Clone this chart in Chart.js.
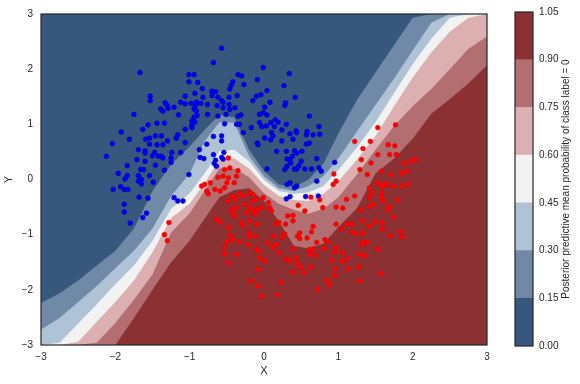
<!DOCTYPE html>
<html><head><meta charset="utf-8">
<script src="https://cdn.jsdelivr.net/npm/chart.js@4/dist/chart.umd.min.js"></script>
<style>
html,body{margin:0;padding:0;background:#fff;}
#wrap{position:relative;width:580px;height:384px;overflow:hidden;}
#main{position:absolute;left:0;top:0;}
#cbar{position:absolute;left:480px;top:0;}
</style></head><body>
<div id="wrap"><canvas id="main" width="580" height="384"></canvas><canvas id="cbar" width="100" height="384"></canvas></div>
<script>
// ---- data ----
const gridX = [-3, -2.75, -2.5, -2.25, -2, -1.75, -1.5, -1.25, -1, -0.8, -0.6, -0.4, -0.2, 0, 0.2, 0.4, 0.6, 0.8, 1, 1.25, 1.5, 1.75, 2, 2.25, 2.5, 2.75, 3];
const level015 = [-2.24,-2.06,-1.83,-1.56,-1.29,-0.89,-0.21,0.27,0.60,0.90,1.17,1.13,0.54,0.15,-0.09,-0.14,0.00,0.29,0.83,1.44,1.94,2.44,2.93,3,3,3,3];
const level030 = [-2.72,-2.51,-2.22,-1.93,-1.61,-1.29,-0.89,-0.30,0.11,0.69,1.04,1.03,0.42,0.06,-0.16,-0.21,-0.12,0.06,0.38,0.87,1.35,1.83,2.34,2.84,3,3,3];
const level045 = [-3,-2.96,-2.61,-2.26,-1.90,-1.56,-1.11,-0.53,-0.25,0.11,0.51,0.54,0.33,-0.01,-0.21,-0.26,-0.23,-0.12,0.17,0.58,1.04,1.57,2.09,2.55,2.93,3,3];
const level060 = [-3,-3,-2.94,-2.58,-2.22,-1.83,-1.32,-0.70,-0.44,-0.07,0.36,0.38,0.20,-0.10,-0.30,-0.37,-0.39,-0.26,-0.03,0.36,0.79,1.33,1.85,2.30,2.68,2.93,3];
const level075 = [-3,-3,-3,-2.96,-2.60,-2.18,-1.72,-0.96,-0.61,-0.21,0.20,0.20,0.04,-0.25,-0.44,-0.55,-0.62,-0.53,-0.32,0.09,0.54,0.97,1.33,1.64,2.00,2.37,2.59];
const level090 = [-3,-3,-3,-3,-3,-2.51,-2.00,-1.50,-1.11,-0.71,-0.32,-0.19,-0.16,-0.39,-0.75,-1.20,-1.25,-1.16,-0.86,-0.52,0.11,0.38,0.74,1.19,1.46,1.74,2.07];
const levels = [0, 0.15, 0.30, 0.45, 0.60, 0.75, 0.90, 1.05];
const axisTicks = [-3, -2, -1, 0, 1, 2, 3];
const class0Points = [
[-1.67,1.94],[-0.68,2.12],[-1.01,1.90],[-0.94,1.90],[-1.01,1.77],[-0.89,1.76],[-0.83,1.65],[-0.70,1.60],[-0.65,1.59],[-0.70,1.52],[-0.93,1.56],[-0.82,1.49],[-1.53,1.51],[-1.53,1.43],[-1.06,1.51],[-1.12,1.40],[-1.06,1.37],[-0.98,1.38],[-0.91,1.40],[-0.85,1.38],[-0.92,1.34],[-0.76,1.36],[-1.33,1.39],[-1.30,1.34],[-1.21,1.31],[-1.39,1.28],[-1.36,1.24],[-1.29,1.29],[-0.94,1.28],[-0.91,1.24],[-0.90,1.16],[-0.76,1.18],[-1.15,1.17],[-1.75,1.18],[-0.94,1.13],[-0.97,1.06],[-0.93,1.04],[-0.97,0.98],[-0.97,0.94],[-1.56,0.99],[-1.44,1.02],[-1.34,1.02],[-1.63,0.91],[-1.06,0.91],[-1.92,0.86],
[-1.81,0.73],[-2.04,0.65],[-1.54,0.75],[-1.59,0.73],[-1.46,0.79],[-1.38,0.79],[-1.30,0.70],[-1.18,0.75],[-1.16,0.81],[-1.06,0.67],[-0.77,0.64],[-0.68,0.78],[-1.69,0.54],[-1.60,0.52],[-1.60,0.48],[-1.54,0.64],[-1.50,0.43],[-1.47,0.49],[-1.42,0.42],[-1.44,0.63],[-1.36,0.63],[-1.38,0.42],[-1.36,0.39],[-1.24,0.49],[-1.12,0.49],[-1.25,0.39],[-1.25,0.31],[-0.87,0.54],[-0.86,0.40],[-0.81,0.38],[-0.68,0.45],[-1.71,0.36],[-1.60,0.33],[-2.12,0.42],[-1.84,0.25],[-1.46,0.26],[-1.66,0.18],[-1.62,0.18],[-1.34,0.17],[-1.96,0.11],[-1.84,0.07],[-1.87,0.01],[-1.69,0.07],[-1.69,-0.03],[-1.65,0.00],[-1.65,-0.08],[-1.54,0.07],[-1.49,-0.05],[-1.93,-0.13],[-2.03,-0.18],[-1.88,-0.18],[-1.83,-0.18],[-1.01,0.09],[-1.68,-0.32],[-1.56,-0.34],[-1.21,-0.33],[-1.16,-0.39],[-1.09,-0.39],[-1.88,-0.45],[-1.88,-0.59],[-1.58,-0.61],[-1.63,-0.69],[-1.80,-0.79],
[-0.57,2.38],[-0.01,2.03],[0.34,1.92],[-0.35,1.90],[-0.30,1.88],[-0.09,1.81],[-0.42,1.77],[-0.44,1.71],[-0.27,1.72],[-0.46,1.64],[0.27,1.70],[-0.62,1.49],[-0.57,1.43],[-0.55,1.40],[-0.47,1.49],[-0.36,1.52],[-0.15,1.43],[-0.10,1.51],[-0.04,1.54],[0.04,1.61],[0.42,1.49],[0.08,1.40],[0.28,1.34],[0.29,1.39],[-0.63,1.34],[-0.55,1.30],[-0.47,1.36],[-0.46,1.27],[-0.39,1.30],[0.01,1.31],[-0.06,1.18],[-0.01,1.21],[0.04,1.17],[-0.62,1.15],[-0.51,1.18],[-0.35,1.15],[-0.31,1.17],[-0.33,1.00],[-0.37,1.00],[-0.53,1.01],[0.15,1.08],[0.19,1.04],[0.09,1.03],[-0.06,1.03],[0.03,0.97],[-0.03,0.96],[-0.17,0.94],[0.14,0.96],[0.30,1.00],[0.61,1.15],[0.74,0.96],[0.43,0.88],[0.24,0.90],[0.58,0.87],
[-0.57,0.79],[-0.57,0.70],[-0.28,0.85],[0.10,0.85],[0.01,0.75],[0.09,0.72],[0.12,0.79],[0.35,0.83],[0.44,0.85],[0.57,0.81],[0.75,0.82],[-0.09,0.66],[-0.08,0.63],[0.24,0.70],[0.39,0.73],[0.61,0.66],[0.57,0.64],[-0.54,0.49],[-0.55,0.37],[-0.57,0.40],[-0.65,0.35],[-0.67,0.29],[-0.64,0.24],[0.17,0.51],[0.30,0.51],[0.41,0.52],[0.44,0.48],[0.38,0.42],[0.35,0.36],[0.31,0.37],[0.51,0.51],[0.36,0.30],[0.31,0.24],[0.50,0.33],[0.47,0.25],[0.41,0.19],[0.44,0.19],[0.55,0.19],[0.28,0.18],[0.04,0.19],[0.71,0.38],[0.64,0.19],[0.74,0.21],[0.71,-0.03],[0.35,-0.06],[0.31,-0.09],[0.44,-0.12],[0.41,-0.15],[0.30,-0.35],[0.35,-0.31],[0.56,-0.31],[0.73,-0.30],[0.66,0.81],[0.77,0.15],[0.95,0.31]
];
const class1Points = [
[-1.28,-0.78],[-1.34,-1.00],[-1.30,-1.11],
[-0.48,0.39],[-0.53,0.18],[-0.46,0.21],[-0.35,0.16],[-0.62,0.04],[-0.55,0.06],[-0.48,0.03],[-0.37,0.06],[-0.40,-0.06],[-0.50,-0.06],[-0.84,-0.12],[-0.80,-0.09],[-0.72,-0.06],[-0.77,-0.21],[-0.75,-0.26],[-0.66,-0.18],[-0.59,-0.21],[-0.53,-0.15],[-0.42,-0.30],[-0.33,-0.27],[-0.28,-0.30],[-0.19,-0.24],[-0.15,-0.27],[-0.48,-0.39],[-0.39,-0.36],[-0.37,-0.51],[-0.44,-0.54],[-0.26,-0.45],[-0.15,-0.39],[-0.10,-0.36],[-0.19,-0.51],[-0.24,-0.60],[-0.15,-0.57],[-0.08,-0.54],[-0.12,-0.63],[-0.42,-0.63],[-0.39,-0.66],[-0.64,-0.72],[-0.59,-0.78],[-0.30,-0.78],[-0.28,-0.84],[-0.48,-0.87],[-0.19,-0.75],[-0.10,-0.81],
[-0.01,-0.33],[-0.03,-0.51],[0.06,-0.42],[0.08,-0.51],[0.10,-0.57],[0.32,-0.66],[0.39,-0.65],[0.55,-0.57],[0.46,-0.47],[0.79,-0.51],[0.17,-0.81],[0.29,-0.81],[0.39,-0.75],[0.20,-0.78],
[-0.20,-0.97],[-0.46,-1.01],[-0.42,-1.09],[-0.50,-1.13],[-0.33,-1.13],[-0.21,-1.03],[-0.12,-1.03],[-0.53,-1.23],[-0.21,-1.18],[-0.10,-1.27],[-0.07,-1.30],[0.05,-1.15],[0.12,-1.03],[0.24,-1.05],[0.28,-0.99],[0.12,-1.23],[0.17,-1.18],[0.20,-1.33],[0.39,-1.26],[0.45,-1.03],[0.48,-1.07],[-0.53,-1.35],[-0.37,-1.36],[-0.48,-1.51],[-0.06,-1.42],[0.01,-1.48],[0.30,-1.44],[0.35,-1.47],[0.43,-1.41],[0.45,-1.51],[0.39,-1.68],[-0.08,-1.63],[-0.18,-1.84],[-0.08,-1.93],[0.23,-1.87],[-0.03,-2.12],[0.18,-2.09],
[1.53,0.94],[1.77,0.99],[1.22,0.69],[1.43,0.69],[1.33,0.56],[1.67,0.63],[1.76,0.61],[1.78,0.45],[1.69,0.45],[1.53,0.45],[1.31,0.36],[1.44,0.30],[1.98,0.34],[2.04,0.36],[1.89,0.30],[1.92,0.15],[1.85,0.11],[1.71,0.09],[1.58,0.15],[1.29,0.18],[1.39,0.09],[1.62,-0.09],[1.53,-0.06],[1.58,-0.12],[1.66,-0.09],[1.74,-0.12],[1.85,-0.12],[1.94,-0.09],[1.42,-0.15],[1.44,-0.24],[1.58,-0.24],[1.58,-0.32],[1.60,-0.39],[1.22,-0.30],[1.11,-0.36],[0.94,0.10],[0.93,-0.09],[0.97,-0.03],[0.75,-0.37],[0.63,-0.32],[0.97,-0.50],[1.06,-0.52],[1.80,-0.38],[1.42,-0.33],[1.47,-0.45],
[1.30,-0.55],[1.41,-0.49],[1.67,-0.55],[1.68,-0.49],[0.97,-0.81],[1.11,-0.81],[1.18,-0.81],[1.33,-0.75],[1.49,-0.77],[1.41,-0.85],[1.59,-0.79],[1.74,-0.68],[1.59,-0.90],[1.04,-0.90],[1.18,-0.95],[1.24,-0.99],[1.33,-0.97],[1.83,-0.95],[1.86,-1.04],[1.70,-1.02],[0.66,-0.85],[0.64,-0.95],[0.48,-0.97],[0.58,-1.06],[0.71,-1.14],[0.82,-1.09],[0.86,-1.13],[0.81,-1.25],[0.97,-1.23],[0.95,-1.32],[1.06,-1.33],[0.61,-1.27],[0.66,-1.26],[0.62,-1.35],[0.69,-1.38],[0.49,-1.59],[0.54,-1.69],[0.63,-1.59],[0.91,-1.47],[1.05,-1.48],[1.12,-1.44],[1.28,-1.35],[1.35,-1.38],[1.32,-1.18],[1.39,-1.14],[1.33,-1.14],[1.53,-1.26],[0.96,-1.62],[1.13,-1.62],[1.27,-1.59],[0.95,-1.74],[0.85,-1.84],[0.88,-1.91],[0.72,-1.99],[1.29,-1.84],[1.57,-1.70]
];

// ---- styling ----
const bandColors = ['#38577d', '#7089a6', '#b0c2d5', '#f2f2f2', '#dcb0b1', '#b26e70', '#8b3133'];
const textColor = '#262626';
const FONT = "'Liberation Sans', Arial, sans-serif";
Chart.defaults.font.family = FONT;
Chart.defaults.color = textColor;

const fmtTick = v => (v < 0 ? '\u2212' + Math.abs(v) : String(v));

const framePlugin = {
  id: 'frame',
  beforeDatasetsDraw(chart, args, opts) {
    if (!opts.bg) return;
    const {ctx, chartArea: a} = chart;
    ctx.save(); ctx.fillStyle = opts.bg;
    ctx.fillRect(a.left, a.top, a.right - a.left, a.bottom - a.top);
    ctx.restore();
  },
  afterDraw(chart, args, opts) {
    const {ctx, chartArea: a} = chart;
    ctx.save(); ctx.strokeStyle = opts.color; ctx.lineWidth = opts.width;
    ctx.strokeRect(a.left, a.top, a.right - a.left, a.bottom - a.top);
    ctx.restore();
  }
};

const boundaries = [level015, level030, level045, level060, level075, level090];
const contourSets = boundaries.map((arr, k) => ({
  type: 'line',
  label: 'p < ' + levels[k + 1].toFixed(2),
  data: gridX.map((x, i) => ({x: x, y: arr[i]})),
  fill: 'end',
  backgroundColor: bandColors[k],
  borderColor: 'rgba(0,0,0,0)',
  borderWidth: 0,
  pointRadius: 0,
  tension: 0
}));

new Chart(document.getElementById('main'), {
  type: 'scatter',
  data: {
    datasets: [
      {label: 'class 1', data: class1Points.map(p => ({x: p[0], y: p[1]})), backgroundColor: '#ff0000', borderColor: '#e00000', borderWidth: 0.5, pointRadius: 2.4},
      {label: 'class 0', data: class0Points.map(p => ({x: p[0], y: p[1]})), backgroundColor: '#0000ff', borderColor: '#0000b0', borderWidth: 0.6, pointRadius: 2.4},
      ...contourSets
    ]
  },
  options: {
    responsive: false, animation: false, devicePixelRatio: 1,
    layout: {padding: {left: 0, right: 93, top: 11, bottom: 0}},
    plugins: {legend: {display: false}, tooltip: {enabled: false}, frame: {color: '#262626', width: 1.2, bg: bandColors[6]}},
    scales: {
      x: {
        type: 'linear', min: -3, max: 3,
        afterBuildTicks: s => { s.ticks = axisTicks.map(v => ({value: v})); },
        ticks: {callback: v => fmtTick(v), font: {size: 10}, padding: 6, maxRotation: 0, autoSkip: false},
        grid: {display: false, drawTicks: false}, border: {display: false},
        title: {display: true, text: 'X', font: {size: 11}, padding: {top: 0, bottom: 6}},
        afterFit: s => { s.height = 39; }
      },
      y: {
        type: 'linear', min: -3, max: 3,
        afterBuildTicks: s => { s.ticks = axisTicks.map(v => ({value: v})); },
        ticks: {callback: v => fmtTick(v), font: {size: 10}, padding: 8, autoSkip: false},
        grid: {display: false, drawTicks: false}, border: {display: false},
        title: {display: true, text: 'Y', font: {size: 11}, padding: {top: 2, bottom: 0}},
        afterFit: s => { s.width = 41; }
      }
    }
  },
  plugins: [framePlugin]
});

const cbTitlePlugin = {
  id: 'cbTitle',
  afterDraw(chart, args, opts) {
    const {ctx, chartArea: a} = chart;
    ctx.save();
    ctx.translate(opts.x, (a.top + a.bottom) / 2);
    ctx.rotate(-Math.PI / 2);
    ctx.font = opts.size + 'px ' + FONT;
    ctx.fillStyle = textColor; ctx.textAlign = 'center'; ctx.textBaseline = 'middle';
    ctx.fillText(opts.text, 0, 0);
    ctx.restore();
  }
};

new Chart(document.getElementById('cbar'), {
  type: 'bar',
  data: {
    labels: [''],
    datasets: levels.slice(0, -1).map((lo, i) => ({
      label: lo.toFixed(2) + '\u2013' + levels[i + 1].toFixed(2),
      data: [[lo, levels[i + 1]]],
      backgroundColor: bandColors[i], borderWidth: 0,
      barPercentage: 1, categoryPercentage: 1, grouped: false
    }))
  },
  options: {
    responsive: false, animation: false, devicePixelRatio: 1,
    layout: {padding: {left: 35, right: 0, top: 11, bottom: 38}},
    plugins: {legend: {display: false}, tooltip: {enabled: false},
      frame: {color: '#262626', width: 1.2},
      cbTitle: {text: 'Posterior predictive mean probability of class label = 0', x: 86, size: 10}},
    scales: {
      x: {display: false},
      y: {
        position: 'right', min: 0, max: 1.05,
        afterBuildTicks: s => { s.ticks = levels.map(v => ({value: v})); },
        ticks: {callback: v => v.toFixed(2), font: {size: 10}, padding: 6, autoSkip: false},
        grid: {display: false, drawTicks: false}, border: {display: false},
        afterFit: s => { s.width = 47; }
      }
    }
  },
  plugins: [framePlugin, cbTitlePlugin]
});
</script>
</body></html>
